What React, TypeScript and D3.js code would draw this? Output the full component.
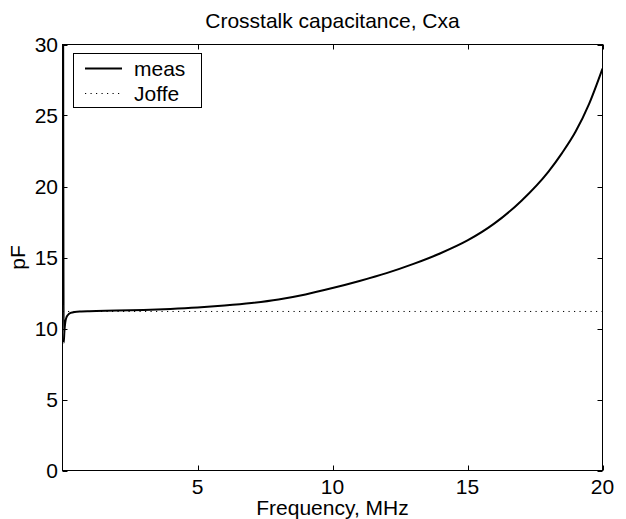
import React, { useEffect, useRef } from 'react';
import * as d3 from 'd3';

// measured crosstalk capacitance (pF) against frequency (MHz)
const measFreq = [0.02, 0.045, 0.07, 0.1, 0.15, 0.2, 0.3, 0.45, 0.7, 1, 2, 3, 4, 5, 6, 7, 8, 9, 10, 11, 12, 13, 14, 15, 16, 17, 18, 18.5, 19, 19.5, 20];
const measPF = [38, 9.0, 9.8, 10.4, 10.8, 10.95, 11.1, 11.17, 11.2, 11.22, 11.26, 11.31, 11.38, 11.48, 11.62, 11.8, 12.05, 12.4, 12.85, 13.35, 13.9, 14.55, 15.3, 16.2, 17.4, 19.0, 21.05, 22.35, 23.85, 25.8, 28.3];

// Joffe estimate, flat
const joffeFreq = [0, 20];
const joffePF = [11.2, 11.2];

const xTicks = [5, 10, 15, 20];
const yTicks = [0, 5, 10, 15, 20, 25, 30];
const legendLabels = ['meas', 'Joffe'];

const App = () => {
  const ref = useRef<SVGSVGElement | null>(null);

  useEffect(() => {
    const width = 626;
    const height = 519;
    const left = 62.5;
    const right = 602.5;
    const top = 44.5;
    const bottom = 470.5;
    const font = '"Liberation Sans", Arial, sans-serif';
    const fs = 21;
    const tick = 5;

    const svg = d3.select(ref.current);
    svg.selectAll('*').remove();
    svg.attr('width', width).attr('height', height);

    svg.append('rect').attr('width', width).attr('height', height).attr('fill', '#fff');

    const x = d3.scaleLinear().domain([0, 20]).range([left, right]);
    const y = d3.scaleLinear().domain([0, 30]).range([bottom, top]);

    svg
      .append('defs')
      .append('clipPath')
      .attr('id', 'plot-clip')
      .append('rect')
      .attr('x', left)
      .attr('y', top)
      .attr('width', right - left)
      .attr('height', bottom - top);

    const line = d3
      .line<[number, number]>()
      .x((d) => x(d[0]))
      .y((d) => y(d[1]))
      .curve(d3.curveMonotoneX);

    const plot = svg.append('g').attr('clip-path', 'url(#plot-clip)');

    plot
      .append('path')
      .datum(joffeFreq.map((f, i) => [f, joffePF[i]] as [number, number]))
      .attr('d', d3.line<[number, number]>().x((d) => x(d[0])).y((d) => y(d[1])))
      .attr('fill', 'none')
      .attr('stroke', '#000')
      .attr('stroke-width', 1)
      .attr('stroke-dasharray', '1.2,4.3');

    plot
      .append('path')
      .datum(measFreq.map((f, i) => [f, measPF[i]] as [number, number]))
      .attr('d', line)
      .attr('fill', 'none')
      .attr('stroke', '#000')
      .attr('stroke-width', 2);

    // box
    svg
      .append('rect')
      .attr('x', left)
      .attr('y', top)
      .attr('width', right - left)
      .attr('height', bottom - top)
      .attr('fill', 'none')
      .attr('stroke', '#000')
      .attr('stroke-width', 1);

    // inward ticks on all four sides
    const ticks = svg.append('g').attr('stroke', '#000').attr('stroke-width', 1);
    xTicks.forEach((t) => {
      const px = Math.round(x(t)) + 0.5;
      ticks.append('line').attr('x1', px).attr('x2', px).attr('y1', bottom).attr('y2', bottom - tick);
      ticks.append('line').attr('x1', px).attr('x2', px).attr('y1', top).attr('y2', top + tick);
    });
    yTicks.forEach((t) => {
      const py = Math.round(y(t)) + 0.5;
      ticks.append('line').attr('y1', py).attr('y2', py).attr('x1', left).attr('x2', left + tick);
      ticks.append('line').attr('y1', py).attr('y2', py).attr('x1', right).attr('x2', right - tick);
    });

    const text = svg.append('g').attr('font-family', font).attr('font-size', fs).attr('fill', '#000');

    xTicks.forEach((t) => {
      text.append('text').attr('x', x(t)).attr('y', 494).attr('text-anchor', 'middle').text(t);
    });
    yTicks.forEach((t) => {
      text
        .append('text')
        .attr('x', 58)
        .attr('y', y(t))
        .attr('dy', '0.36em')
        .attr('text-anchor', 'end')
        .text(t);
    });

    text
      .append('text')
      .attr('x', (left + right) / 2)
      .attr('y', 28)
      .attr('text-anchor', 'middle')
      .text('Crosstalk capacitance, Cxa');

    text
      .append('text')
      .attr('x', (left + right) / 2)
      .attr('y', 515)
      .attr('text-anchor', 'middle')
      .text('Frequency, MHz');

    text
      .append('text')
      .attr('transform', `translate(25, ${(top + bottom) / 2}) rotate(-90)`)
      .attr('text-anchor', 'middle')
      .text('pF');

    // legend
    const lg = svg.append('g');
    lg.append('rect')
      .attr('x', 73.5)
      .attr('y', 53.5)
      .attr('width', 128)
      .attr('height', 54)
      .attr('fill', '#fff')
      .attr('stroke', '#000')
      .attr('stroke-width', 1);

    legendLabels.forEach((label, i) => {
      const ly = 68.5 + i * 25;
      lg.append('line')
        .attr('x1', 85)
        .attr('x2', 122)
        .attr('y1', ly)
        .attr('y2', ly)
        .attr('stroke', '#000')
        .attr('stroke-width', i === 0 ? 2 : 1)
        .attr('stroke-dasharray', i === 0 ? null : '1.2,4.3');
      lg.append('text')
        .attr('x', 134)
        .attr('y', ly + 7)
        .attr('font-family', font)
        .attr('font-size', fs)
        .text(label);
    });
  }, []);

  return (
    <div style={{ position: 'absolute', left: 0, top: 0 }}>
      <svg ref={ref}></svg>
    </div>
  );
};

export default App;
